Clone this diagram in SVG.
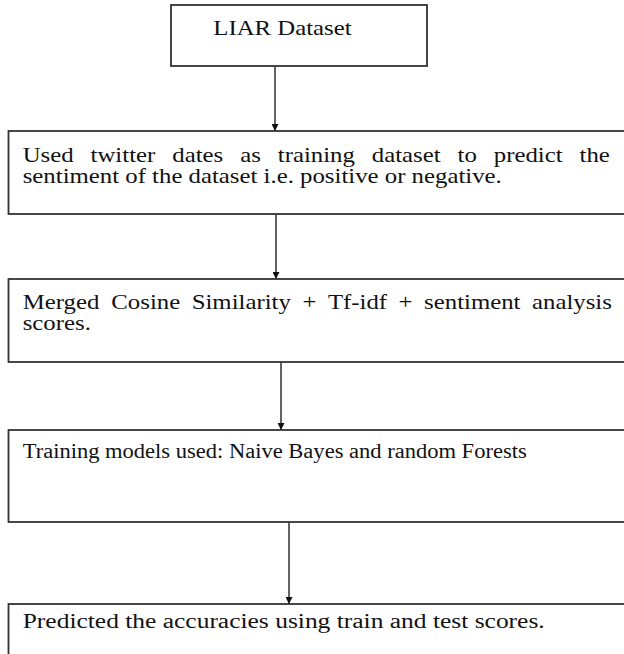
<svg xmlns="http://www.w3.org/2000/svg" width="624" height="654" viewBox="0 0 624 654">
  <style>
    .box { fill: #ffffff; stroke: #333333; stroke-width: 1.8; }
    .lbl { font-family: "Liberation Serif", "Times New Roman", serif; font-size: 20px; fill: #111111; }
    .edge { stroke: #222222; stroke-width: 1.4; fill: none; marker-end: url(#head); }
  </style>
  <defs>
    <marker id="head" viewBox="0 0 10 10" refX="10" refY="5" markerWidth="7" markerHeight="7" markerUnits="userSpaceOnUse" orient="auto">
      <path d="M0,0 L10,5 L0,10 z" fill="#111111"/>
    </marker>
  </defs>
  <rect width="624" height="654" fill="#ffffff"/>

  <!-- connectors -->
  <g id="connectors">
    <line class="edge" x1="275" y1="66" x2="275" y2="131"/>
    <line class="edge" x1="276" y1="214" x2="276" y2="279"/>
    <line class="edge" x1="281" y1="362" x2="281" y2="430"/>
    <line class="edge" x1="289" y1="522" x2="289" y2="604"/>
  </g>

  <!-- LIAR Dataset -->
  <g id="n1">
    <rect class="box" x="171" y="5" width="256" height="61"/>
    <g transform="translate(213.3 35) scale(1.24 1)">
      <text class="lbl" x="0" y="0">LIAR Dataset</text>
    </g>
  </g>

  <!-- sentiment step -->
  <g id="n2">
    <rect class="box" x="8.5" y="131" width="630" height="83"/>
    <g transform="translate(22.7 162) scale(1.24 1)">
      <text class="lbl" y="0"><tspan x="0">Used</tspan><tspan x="54.75">twitter</tspan><tspan x="120.6">dates</tspan><tspan x="175.35">as</tspan><tspan x="205.7">training</tspan><tspan x="281.55">dataset</tspan><tspan x="350.7">to</tspan><tspan x="379.95">predict</tspan><tspan x="449.1">the</tspan></text>
      <text class="lbl" x="0" y="21.5">sentiment of the dataset i.e. positive or negative.</text>
    </g>
  </g>

  <!-- merged scores -->
  <g id="n3">
    <rect class="box" x="8.5" y="279" width="630" height="83"/>
    <g transform="translate(22.7 309) scale(1.24 1)">
      <text class="lbl" y="0"><tspan x="0">Merged</tspan><tspan x="71.47">Cosine</tspan><tspan x="136.3">Similarity</tspan><tspan x="225.59">+</tspan><tspan x="246.14">Tf-idf</tspan><tspan x="303.17">+</tspan><tspan x="323.72">sentiment</tspan><tspan x="410.77">analysis</tspan></text>
      <text class="lbl" x="0" y="21.5">scores.</text>
    </g>
  </g>

  <!-- training models -->
  <g id="n4">
    <rect class="box" x="8.5" y="430" width="630" height="92"/>
    <text class="lbl" x="22.7" y="458" textLength="504" lengthAdjust="spacingAndGlyphs">Training models used: Naive Bayes and random Forests</text>
  </g>

  <!-- accuracy step -->
  <g id="n5">
    <rect class="box" x="8.5" y="604" width="630" height="80"/>
    <text class="lbl" x="22.7" y="628" textLength="522" lengthAdjust="spacingAndGlyphs">Predicted the accuracies using train and test scores.</text>
  </g>
</svg>
